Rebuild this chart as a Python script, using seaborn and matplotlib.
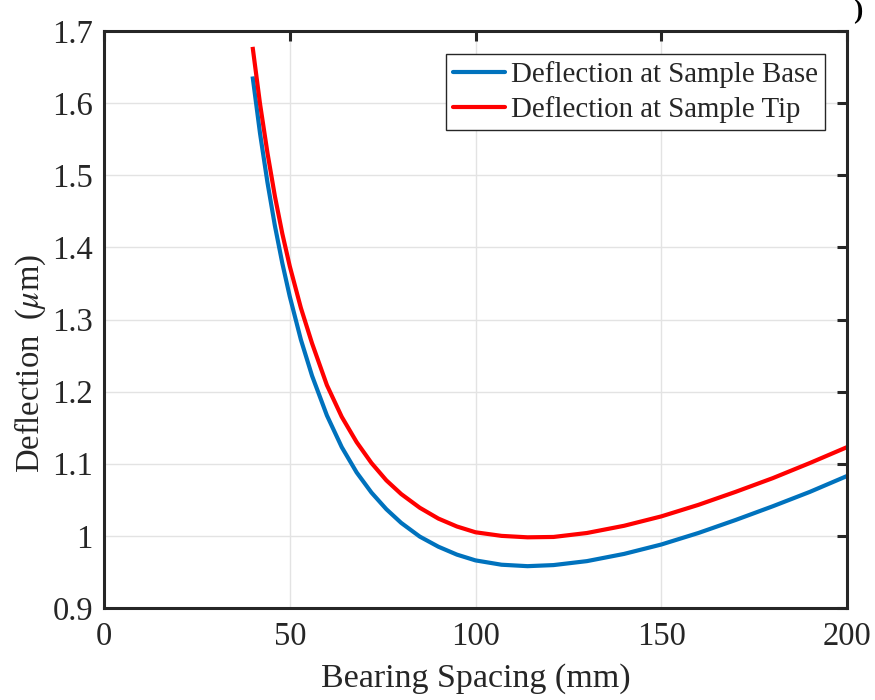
import numpy as np
import pandas as pd
import matplotlib
matplotlib.use("Agg")
import matplotlib.pyplot as plt
from matplotlib.lines import Line2D
import seaborn as sns

# ---- data ----
spacing_mm = [40, 42, 44, 46, 48, 50, 53, 56, 60, 64, 68, 72, 76, 80, 85, 90, 95,
              100, 107, 114, 121, 130, 140, 150, 160, 170, 180, 190, 200]
base_defl = [1.637, 1.558, 1.490, 1.430, 1.378, 1.332, 1.272, 1.222, 1.167, 1.123,
             1.088, 1.060, 1.037, 1.018, 0.999, 0.985, 0.974, 0.966, 0.960, 0.958,
             0.9595, 0.965, 0.975, 0.988, 1.004, 1.022, 1.041, 1.061, 1.083]
tip_defl = [1.678, 1.599, 1.531, 1.471, 1.419, 1.374, 1.316, 1.267, 1.209, 1.165,
            1.130, 1.101, 1.077, 1.058, 1.039, 1.024, 1.013, 1.005, 1.000, 0.998,
            0.9985, 1.004, 1.014, 1.027, 1.043, 1.061, 1.080, 1.101, 1.123]
series_names = ["Deflection at Sample Base", "Deflection at Sample Tip"]
series_colors = ["#0072BD", "#FF0000"]
x_ticks = [0, 50, 100, 150, 200]
y_ticks = [0.9, 1.0, 1.1, 1.2, 1.3, 1.4, 1.5, 1.6, 1.7]
y_tick_labels = ["0.9", "1", "1.1", "1.2", "1.3", "1.4", "1.5", "1.6", "1.7"]

df = pd.concat([
    pd.DataFrame({"x": spacing_mm, "y": base_defl, "series": series_names[0]}),
    pd.DataFrame({"x": spacing_mm, "y": tip_defl, "series": series_names[1]}),
], ignore_index=True)

sns.set_theme(style="white")
plt.rcParams["font.family"] = ["Liberation Serif", "DejaVu Serif"]
plt.rcParams["mathtext.fontset"] = "stix"

fig = plt.figure(figsize=(8.75, 7.0), dpi=100)
ax = fig.add_axes([104 / 875, 1 - 608 / 700, (847 - 104) / 875, (608 - 31) / 700])

sns.lineplot(data=df, x="x", y="y", hue="series", palette=series_colors,
             hue_order=series_names, linewidth=3.0, ax=ax, sort=True,
             estimator=None, legend=False, solid_joinstyle="round",
             solid_capstyle="butt")

ax.set_xlim(0, 200)
ax.set_ylim(0.9, 1.7)
ax.set_xticks(x_ticks)
ax.set_yticks(y_ticks)
ax.set_yticklabels(y_tick_labels)
ax.grid(True, color="#e3e3e3", linewidth=1.0)
ax.set_axisbelow(True)
for s in ax.spines.values():
    s.set_visible(True)
    s.set_color("#262626")
    s.set_linewidth(2.2)
ax.tick_params(direction="in", length=7, width=2.2, colors="#262626",
               labelsize=23.5, top=True, right=True, pad=8)
ax.tick_params(axis="x", pad=10)
ax.set_xlabel("Bearing Spacing (mm)", fontsize=24.5, color="#262626", labelpad=8)
ax.set_ylabel("Deflection  ($\\mu$m)", fontsize=23.5, color="#262626")
ax.yaxis.set_label_coords(-0.075, (608 - 364) / 577)

handles = [Line2D([0], [0], color=c, linewidth=3.0) for c in series_colors]
leg = ax.legend(handles, series_names, loc="upper right",
                bbox_to_anchor=(825 / 875, 1 - 54 / 700), bbox_transform=fig.transFigure,
                fontsize=20.8, frameon=True, fancybox=False, framealpha=1,
                edgecolor="#262626", handlelength=1.8, handletextpad=0.2,
                borderpad=0.25, labelspacing=0.26, borderaxespad=0)
leg.get_frame().set_linewidth(1.0)

fig.text(858 / 875, 1 - 12 / 700, ")", fontsize=20, fontweight="bold",
         ha="center", va="center", color="black")

fig.savefig("out.png", dpi=100)
